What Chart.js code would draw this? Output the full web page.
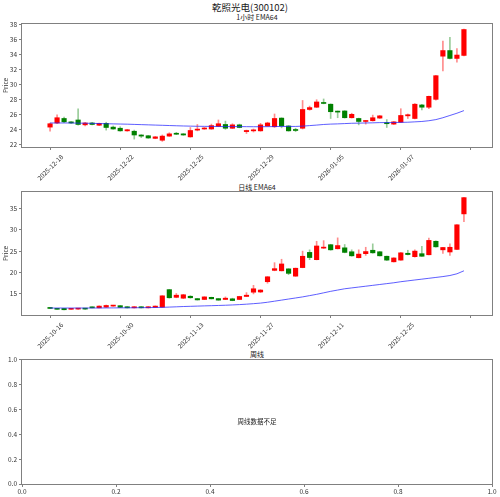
<!DOCTYPE html>
<html>
<head>
<meta charset="utf-8">
<script src="https://cdn.jsdelivr.net/npm/chart.js@4.4.1/dist/chart.umd.min.js"></script>
<style>
  body { margin: 0; background: #fff; }
  #wrap { position: relative; width: 500px; height: 497px; font-family: "Noto Sans CJK SC", sans-serif; color: #222; }
  #wrap canvas { position: absolute; left: 0; }
  .ttl { position: absolute; transform: translate(-50%, -50%); white-space: nowrap; line-height: 1; }
</style>
</head>
<body>
<div id="wrap">
  <div class="ttl" style="left:250px;top:8px;font-size:9.5px">乾照光电(300102)</div>
  <div class="ttl" style="left:257px;top:17px;font-size:7px">1小时 EMA64</div>
  <div class="ttl" style="left:257px;top:186.5px;font-size:7px">日线 EMA64</div>
  <div class="ttl" style="left:257px;top:354px;font-size:7px">周线</div>
  <canvas id="hourChart" width="500" height="164" style="top:18px"></canvas>
  <canvas id="dayChart" width="500" height="164" style="top:186px"></canvas>
  <canvas id="weekChart" width="500" height="143" style="top:354px"></canvas>
</div>
<script>
// 1 hour candles
let hourOpen  = [24.35,24.9,25.5,25.05,25.3,24.65,24.9,24.6,24.85,24.35, 24.2,23.85,23.8,23.3,23.2,22.85,22.6,23.15,23.5,23.45,
                 23.05,23.95,24.1,24.1,24.45,24.7,24.2,24.65,23.75,23.85, 23.85,24.5,24.4,25.55,24.5,23.95,24.2,26.7,27.0,27.6,
                 27.4,26.45,26.5,25.6,25.5,25.1,25.2,25.55,24.95,24.75, 25.0,25.85,25.5,27.3,27.0,28.05,33.8,34.55,33.5,33.9];
let hourHigh  = [24.9,26.0,25.7,25.1,26.8,25.0,25.0,24.9,25.0,24.5, 24.4,24.05,23.95,23.35,23.25,23.1,23.3,23.6,23.65,23.5,
                 24.3,24.7,24.3,24.75,25.3,25.15,24.8,24.75,23.95,24.1, 24.85,25.0,26.1,25.6,24.55,24.2,27.9,27.15,28.0,28.1,
                 27.45,26.5,26.55,26.2,25.55,25.25,25.95,25.9,25.35,25.1, 26.8,26.1,27.5,27.4,28.5,31.25,35.8,36.3,34.8,37.4];
let hourLow   = [23.8,24.8,24.95,24.85,24.6,24.5,24.65,24.55,23.95,24.05, 23.8,23.8,22.75,22.95,22.85,22.8,22.45,23.1,23.35,23.25,
                 23.0,23.85,24.05,24.05,24.4,24.05,24.15,24.25,23.5,23.7, 23.8,24.45,24.3,24.25,23.8,23.75,24.1,26.6,26.95,27.45,
                 25.5,25.6,25.55,25.55,24.65,24.75,25.15,25.5,24.3,24.7, 24.95,25.5,25.45,26.65,26.8,27.95,31.85,33.45,33.0,33.85];
let hourClose = [24.8,25.6,25.05,24.9,24.7,24.9,24.7,24.85,24.3,24.1, 23.85,24.0,23.3,23.15,22.9,23.05,23.15,23.45,23.4,23.3,
                 23.9,24.05,24.2,24.55,24.8,24.2,24.65,24.3,23.9,23.95, 24.65,24.9,25.5,24.5,23.85,23.9,26.7,26.95,27.7,27.5,
                 26.4,26.35,25.6,26.05,25.1,25.2,25.6,25.85,24.8,25.05, 25.9,26.0,27.4,27.0,28.45,31.2,34.55,33.5,33.95,37.35];
let hourEma   = [24.9,24.9,24.9,24.9,24.88,24.87,24.85,24.83,24.8,24.78, 24.76,24.74,24.71,24.68,24.65,24.62,24.59,24.56,24.53,24.5,
                 24.48,24.46,24.45,24.44,24.43,24.42,24.42,24.42,24.41,24.4, 24.4,24.41,24.42,24.44,24.44,24.44,24.48,24.55,24.62,24.7,
                 24.75,24.78,24.82,24.86,24.88,24.9,24.92,24.95,24.95,24.96, 24.98,25.0,25.05,25.1,25.2,25.35,25.6,25.9,26.2,26.55];
let hourTickLabels = ['2025-12-18', '2025-12-22', '2025-12-25', '2025-12-29', '2026-01-05', '2026-01-07'];
let hourYTicks = [22, 24, 26, 28, 30, 32, 34, 36, 38];

// daily candles
let dayOpen  = [11.77,11.6,11.6,11.4,11.45,11.6,11.9,11.75,11.9,12.15, 12.25,12.0,11.75,12.0,11.75,11.85,11.9,16.0,14.2,14.0,
                14.45,13.9,13.7,14.2,13.9,13.7,13.85,13.7,14.4,15.4, 15.45,17.85,20.5,20.4,20.85,19.15,21.15,24.7,23.0,25.7,
                26.5,25.55,25.77,24.85,23.46,24.4,25.2,24.85,23.8,22.5, 22.9,24.5,23.7,24.4,24.15,27.3,25.3,24.8,25.4,33.7];
let dayHigh  = [11.85,11.65,11.65,11.65,11.65,11.65,12.0,12.2,12.4,12.35, 12.3,12.05,12.05,12.05,12.05,12.2,14.6,16.05,15.1,14.9,
                14.6,13.95,14.35,14.25,13.95,14.3,14.0,14.45,15.3,17.0, 16.0,19.05,22.3,23.1,20.9,21.05,25.0,25.3,27.3,27.45,
                26.6,28.1,26.55,25.3,25.3,25.9,26.7,24.9,23.85,23.45, 24.7,25.2,25.3,26.1,28.05,27.4,25.9,26.7,31.2,37.55];
let dayLow   = [11.55,11.35,11.25,11.35,11.4,11.4,11.7,11.7,11.85,12.1, 11.8,11.7,11.7,11.7,11.7,11.8,11.85,14.0,14.1,13.9,
                14.0,13.55,13.65,13.8,13.5,13.65,13.4,13.65,14.35,15.0, 15.3,17.5,20.4,20.35,19.5,19.1,21.1,23.0,22.95,25.6,
                25.2,25.5,24.6,23.8,23.4,24.0,24.5,23.85,22.8,22.45, 22.85,24.1,23.6,23.75,24.1,25.9,24.45,24.0,25.35,31.9];
let dayClose = [11.6,11.4,11.3,11.6,11.6,11.45,11.75,12.15,12.3,12.3, 11.85,11.75,12.0,11.75,12.0,12.15,14.55,14.1,14.7,14.8,
                14.1,13.6,14.3,13.85,13.55,14.0,13.45,14.4,14.7,16.2, 15.9,19.0,20.9,22.0,19.8,21.0,23.8,23.5,26.2,25.9,
                25.3,26.3,24.7,23.9,24.3,24.9,24.6,23.9,22.9,23.4, 24.6,24.2,25.0,23.8,27.5,26.0,25.85,25.9,31.15,37.5];
let dayEma   = [11.7,11.7,11.7,11.7,11.7,11.7,11.7,11.71,11.72,11.73, 11.74,11.75,11.76,11.78,11.8,11.82,11.86,11.92,11.98,12.05,
                12.1,12.15,12.2,12.25,12.3,12.35,12.42,12.5,12.6,12.72, 12.85,13.05,13.3,13.55,13.8,14.05,14.3,14.6,14.9,15.25,
                15.6,15.9,16.2,16.4,16.6,16.8,17.0,17.2,17.4,17.6, 17.85,18.05,18.25,18.45,18.65,18.85,19.05,19.3,19.7,20.4];
let dayTickLabels = ['2025-10-16', '2025-10-30', '2025-11-13', '2025-11-27', '2025-12-11', '2025-12-25'];
let dayYTicks = [15, 20, 25, 30, 35];

// weekly panel: empty
let weekTicks = [0, 0.2, 0.4, 0.6, 0.8, 1.0];
let weekNote = '周线数据不足';

let indexTicks = [0, 10, 20, 30, 40, 50, 60];
let axisGray = '#808080';
let fontFamily = '"Noto Sans CJK SC", sans-serif';

Chart.defaults.font.family = fontFamily;
Chart.defaults.font.size = 6.5;
Chart.defaults.color = '#333';

/**
 * Draws the full box around the plot area and an optional centred note.
 */
const framePlugin = {
  id: 'frame',
  afterDraw(chart, args, opts) {
    let { ctx, chartArea: a } = chart;
    ctx.save();
    ctx.strokeStyle = axisGray;
    ctx.lineWidth = 1;
    let l = Math.round(a.left) - 0.5, t = Math.round(a.top) - 0.5;
    ctx.strokeRect(l, t, Math.round(a.right) - l + 0.5, Math.round(a.bottom) - t + 0.5);
    if (opts.note) {
      ctx.fillStyle = '#222';
      ctx.font = '6.5px ' + fontFamily;
      ctx.textAlign = 'center';
      ctx.textBaseline = 'middle';
      ctx.fillText(opts.note, (a.left + a.right) / 2, (a.top + a.bottom) / 2);
    }
    ctx.restore();
  }
};

function candleSets(open, high, low, close, ema) {
  let up = close.map((c, i) => c >= open[i]);
  return [
    { type: 'bar', order: 3, grouped: false, barThickness: 1,
      data: open.map((o, i) => ({ x: i, y: [low[i], high[i]] })),
      backgroundColor: up.map(u => u ? 'rgba(255,0,0,0.45)' : 'rgba(0,128,0,0.4)') },
    { type: 'bar', order: 2, grouped: false, barThickness: 4.5, minBarLength: 1,
      data: open.map((o, i) => ({ x: i, y: [o, close[i]] })),
      backgroundColor: up.map(u => u ? '#ff0000' : '#008000') },
    { type: 'line', order: 1, borderColor: 'rgba(40,40,255,0.75)', borderWidth: 1, pointRadius: 0,
      data: ema.map((v, i) => ({ x: i, y: v })) }
  ];
}

function tickGrid() {
  return { display: true, drawOnChartArea: false, drawTicks: true, tickLength: 3, color: axisGray };
}

function candleChart(id, sets, tickLabels, yTicks, yMin, yMax) {
  new Chart(document.getElementById(id), {
    type: 'bar',
    data: { datasets: sets },
    options: {
      responsive: false, animation: false,
      layout: { padding: { top: 5, right: 8, left: 0, bottom: 0 } },
      plugins: { legend: { display: false }, tooltip: { enabled: false } },
      scales: {
        x: {
          type: 'linear', min: -4, max: 63, offset: false,
          grid: Object.assign(tickGrid(), { offset: false }), border: { display: false },
          afterBuildTicks: s => { s.ticks = indexTicks.map(v => ({ value: v })); },
          afterFit: s => { s.height = 35; },
          ticks: { autoSkip: false, minRotation: 45, maxRotation: 45, padding: 3, labelOffset: 12,
                   callback: v => tickLabels[v / 10] || '' }
        },
        y: {
          min: yMin, max: yMax,
          grid: tickGrid(), border: { display: false },
          afterBuildTicks: s => { s.ticks = yTicks.map(v => ({ value: v })); },
          afterFit: s => { s.width = 22; },
          title: { display: true, text: 'Price', padding: { top: 2, bottom: 2 } },
          ticks: { padding: 2 }
        }
      }
    },
    plugins: [framePlugin]
  });
}

candleChart('hourChart', candleSets(hourOpen, hourHigh, hourLow, hourClose, hourEma), hourTickLabels, hourYTicks, 21.7, 38.1);
candleChart('dayChart', candleSets(dayOpen, dayHigh, dayLow, dayClose, dayEma), dayTickLabels, dayYTicks, 10.07, 38.84);

new Chart(document.getElementById('weekChart'), {
  type: 'scatter',
  data: { datasets: [{ data: [] }] },
  options: {
    responsive: false, animation: false,
    layout: { padding: { top: 5, right: 8, left: 0, bottom: 0 } },
    plugins: { legend: { display: false }, tooltip: { enabled: false }, frame: { note: weekNote } },
    scales: {
      x: {
        type: 'linear', min: 0, max: 1,
        grid: tickGrid(), border: { display: false },
        afterBuildTicks: s => { s.ticks = weekTicks.map(v => ({ value: v })); },
        afterFit: s => { s.height = 13; },
        ticks: { padding: 1, maxRotation: 0, callback: v => v.toFixed(1) }
      },
      y: {
        min: 0, max: 1,
        grid: tickGrid(), border: { display: false },
        afterBuildTicks: s => { s.ticks = weekTicks.map(v => ({ value: v })); },
        afterFit: s => { s.width = 22; },
        ticks: { padding: 2, callback: v => v.toFixed(1) }
      }
    }
  },
  plugins: [framePlugin]
});
</script>
</body>
</html>
